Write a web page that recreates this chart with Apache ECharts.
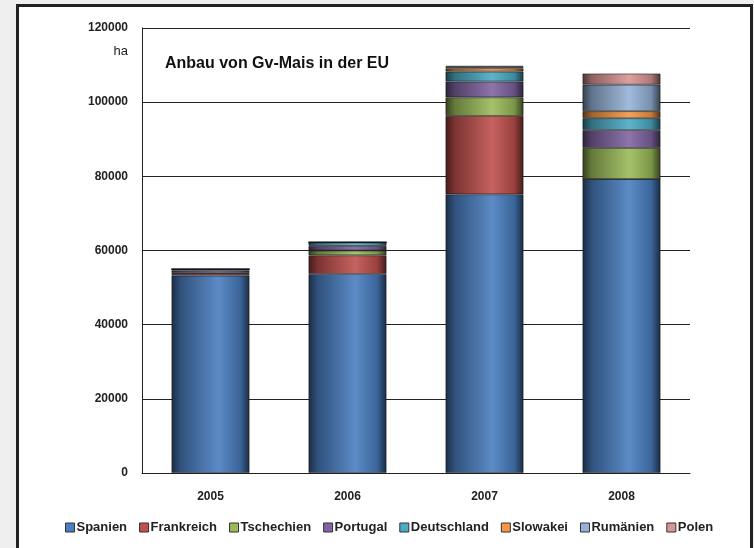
<!DOCTYPE html>
<html><head><meta charset="utf-8">
<script src="https://cdn.jsdelivr.net/npm/echarts@6/dist/echarts.min.js"></script>
<style>html,body{margin:0;padding:0;background:#efefef}#c{width:754px;height:548px}</style>
</head><body><div id="c"></div>
<script>
const years = ['2005', '2006', '2007', '2008'];
const seriesNames = ['Spanien', 'Frankreich', 'Tschechien', 'Portugal', 'Deutschland', 'Slowakei', 'Rumänien', 'Polen'];
const spanien     = [53225, 53667, 75148, 79269];
const frankreich  = [492, 5028, 21147, 0];
const tschechien  = [150, 1290, 5000, 8380];
const portugal    = [750, 1254, 4263, 4851];
const deutschland = [342, 947, 2685, 3173];
const slowakei    = [0, 30, 900, 1900];
const rumaenien   = [0, 0, 350, 7146];
const polen       = [0, 0, 320, 3000];
const yTicks = [0, 20000, 40000, 60000, 80000, 100000, 120000];
const seriesValues = [spanien, frankreich, tschechien, portugal, deutschland, slowakei, rumaenien, polen];
const baseColors = ['#4A7EC0', '#C0504D', '#9BBB59', '#8064A2', '#4BACC6', '#F79646', '#95B3D7', '#D99694'];

function shade(hex, f) {
  const n = parseInt(hex.slice(1), 16);
  let r = (n >> 16) & 255, g = (n >> 8) & 255, b = n & 255;
  if (f < 0) { r = r * (1 + f); g = g * (1 + f); b = b * (1 + f); }
  else { r = r + (255 - r) * f; g = g + (255 - g) * f; b = b + (255 - b) * f; }
  return 'rgb(' + Math.round(r) + ',' + Math.round(g) + ',' + Math.round(b) + ')';
}
function cyl(hex) {
  return new echarts.graphic.LinearGradient(0, 0, 1, 0, [
    {offset: 0, color: shade(hex, -0.65)},
    {offset: 0.12, color: shade(hex, -0.35)},
    {offset: 0.6, color: shade(hex, 0.1)},
    {offset: 0.88, color: shade(hex, -0.2)},
    {offset: 1, color: shade(hex, -0.65)}
  ]);
}
const font = '"Liberation Sans", Arial, sans-serif';
const chart = echarts.init(document.getElementById('c'));
chart.setOption({
  backgroundColor: '#efefef',
  animation: false,
  graphic: [
    {type: 'rect', shape: {x: 17.5, y: 5.5, width: 734, height: 548}, style: {fill: '#fff', stroke: '#222', lineWidth: 3}, z: -10},
    {type: 'text', left: 165, top: 56, style: {text: 'Anbau von Gv-Mais in der EU', font: 'bold 16px ' + font, fill: '#111'}},
    {type: 'text', right: 754 - 128, top: 45, style: {text: 'ha', font: '13px ' + font, fill: '#222', textAlign: 'right'}}
  ],
  grid: {left: 142, right: 64, top: 28, bottom: 75},
  legend: {
    bottom: 9, left: 60, itemWidth: 9, itemHeight: 9, itemGap: 12, icon: 'rect',
    textStyle: {fontFamily: font, fontSize: 13, fontWeight: 'bold', color: '#222', padding: [0, 0, 0, -3]},
    data: seriesNames.map((n, i) => ({name: n, itemStyle: {color: baseColors[i], borderColor: '#333', borderWidth: 1}}))
  },
  xAxis: {
    type: 'category', data: years,
    axisLine: {lineStyle: {color: '#222', width: 1}},
    axisTick: {show: false},
    axisLabel: {fontFamily: font, fontSize: 12, fontWeight: 'bold', color: '#222', margin: 18}
  },
  yAxis: {
    type: 'value', min: 0, max: yTicks[yTicks.length - 1], interval: 20000,
    axisLine: {show: true, lineStyle: {color: '#222'}},
    axisTick: {show: false},
    splitLine: {lineStyle: {color: '#222', width: 1}},
    axisLabel: {fontFamily: font, fontSize: 12, fontWeight: 'bold', color: '#222', margin: 14, formatter: v => String(v)}
  },
  series: seriesNames.map((n, i) => ({
    name: n, type: 'bar', stack: 'all', barWidth: 78,
    data: seriesValues[i],
    itemStyle: {color: cyl(baseColors[i]), borderColor: 'rgba(20,20,20,0.7)', borderWidth: 0.8}
  }))
});
</script></body></html>
